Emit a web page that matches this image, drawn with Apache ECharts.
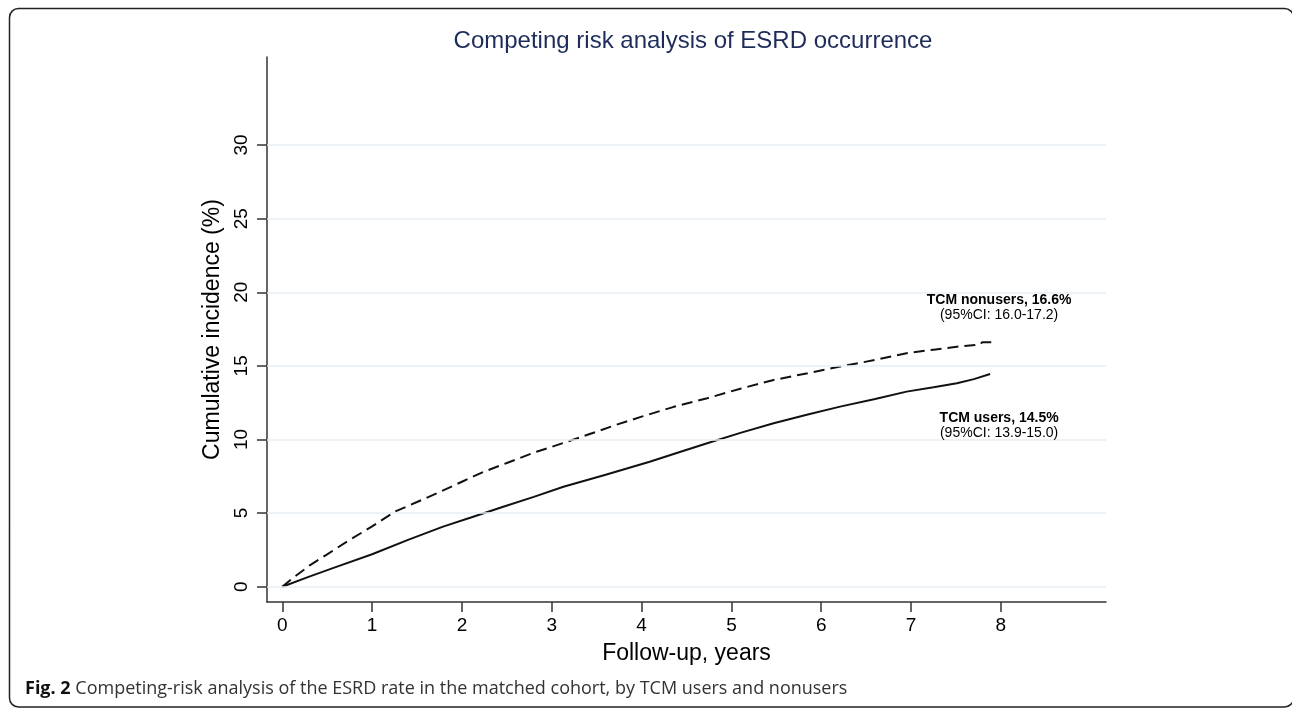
<!DOCTYPE html>
<html>
<head>
<meta charset="utf-8">
<script src="https://cdn.jsdelivr.net/npm/echarts@6/dist/echarts.min.js"></script>
<style>
html,body{margin:0;padding:0;background:#fff;}
#chart{width:1292px;height:708px;}
</style>
</head>
<body>
<div id="chart"></div>
<script>
// ---- data ----
var titleText = 'Competing risk analysis of ESRD occurrence';
var xAxisName = 'Follow-up, years';
var yAxisName = 'Cumulative incidence (%)';
var xTicks = [0, 1, 2, 3, 4, 5, 6, 7, 8];
var yTicks = [0, 5, 10, 15, 20, 25, 30];

var nonusersT = [0, 0.1, 0.31, 0.5, 0.72, 1.0, 1.255, 1.5, 1.72, 2.0, 2.24, 2.5, 2.83, 3.0, 3.39, 3.7, 4.0, 4.35, 4.73, 5.1, 5.47, 5.85, 6.21, 6.6, 6.95, 7.25, 7.51, 7.77, 7.79, 7.9];
var nonusersV = [0, 0.5, 1.47, 2.2, 3.06, 4.1, 5.1, 5.75, 6.34, 7.13, 7.8, 8.4, 9.17, 9.5, 10.3, 10.96, 11.55, 12.2, 12.8, 13.45, 14.04, 14.5, 14.95, 15.4, 15.86, 16.1, 16.3, 16.45, 16.6, 16.6];

var usersT = [0, 0.3, 0.61, 1.0, 1.4, 1.79, 2.1, 2.46, 2.8, 3.13, 3.6, 4.09, 4.4, 4.73, 5.1, 5.47, 5.85, 6.21, 6.6, 6.95, 7.25, 7.51, 7.7, 7.88];
var usersV = [0, 0.68, 1.36, 2.2, 3.18, 4.08, 4.7, 5.43, 6.1, 6.79, 7.6, 8.49, 9.1, 9.74, 10.45, 11.1, 11.7, 12.23, 12.75, 13.25, 13.55, 13.82, 14.1, 14.45];

var nonusersLabel = ['TCM nonusers, 16.6%', '(95%CI: 16.0-17.2)'];
var nonusersLabelAt = [7.98, 18.93];
var usersLabel = ['TCM users, 14.5%', '(95%CI: 13.9-15.0)'];
var usersLabelAt = [7.98, 10.96];

var captionBold = 'Fig. 2';
var captionText = ' Competing-risk analysis of the ESRD rate in the matched cohort, by TCM users and nonusers';

// ---- build ----
function pairs(t, v) { return t.map(function (x, i) { return [x, v[i]]; }); }
var font = '"Liberation Sans", Arial, Helvetica, sans-serif';
var richLabel = {
  b: { fontFamily: font, fontWeight: 'bold', fontSize: 14, color: '#000', lineHeight: 15, align: 'center' },
  n: { fontFamily: font, fontSize: 14, color: '#000', lineHeight: 15, align: 'center' }
};
function annot(lines, at) {
  return {
    coord: at,
    symbol: 'circle', symbolSize: 0,
    label: {
      show: true, position: 'inside',
      formatter: '{b|' + lines[0] + '}\n{n|' + lines[1] + '}',
      rich: richLabel
    }
  };
}

var chart = echarts.init(document.getElementById('chart'), null, { renderer: 'canvas' });
chart.setOption({
  animation: false,
  backgroundColor: '#fff',
  title: {
    text: titleText,
    left: 688, top: 24, textAlign: 'center',
    textStyle: { fontFamily: font, fontSize: 24, fontWeight: 'normal', color: '#1e2c5a' }
  },
  grid: { left: 267, top: 57, width: 839, height: 545, containLabel: false },
  xAxis: {
    type: 'value', min: -0.17, max: 9.17,
    name: xAxisName, nameLocation: 'middle', nameGap: 40,
    nameTextStyle: { fontFamily: font, fontSize: 23, color: '#000' },
    axisLine: { show: true, onZero: false, lineStyle: { color: '#333', width: 1.5 } },
    axisTick: { show: true, length: 10, inside: false, customValues: xTicks, lineStyle: { color: '#333', width: 1.5 } },
    axisLabel: { show: true, customValues: xTicks, margin: 14, fontFamily: font, fontSize: 19, color: '#000', showMinLabel: true, showMaxLabel: true },
    splitLine: { show: false }
  },
  yAxis: {
    type: 'value', min: -1.04, max: 35.98,
    name: yAxisName, nameLocation: 'middle', nameGap: 43, nameRotate: 90,
    nameTextStyle: { fontFamily: font, fontSize: 23, color: '#000' },
    axisLine: { show: true, onZero: false, lineStyle: { color: '#333', width: 1.5 } },
    axisTick: { show: true, length: 10, inside: false, customValues: yTicks, lineStyle: { color: '#333', width: 1.5 } },
    axisLabel: { show: true, customValues: yTicks, rotate: 90, margin: 16, fontFamily: font, fontSize: 19, color: '#000' },
    splitLine: { show: false }
  },
  series: [
    {
      name: 'grid', type: 'line', data: [], z: 1, silent: true,
      markLine: {
        silent: true, symbol: 'none', animation: false,
        label: { show: false },
        lineStyle: { color: '#e6eef3', width: 1.5, type: 'solid' },
        emphasis: { disabled: true },
        data: yTicks.map(function (v) { return { yAxis: v }; })
      }
    },
    {
      name: 'TCM nonusers', type: 'line', z: 3,
      data: pairs(nonusersT, nonusersV),
      showSymbol: false, symbol: 'none', smooth: false,
      lineStyle: { color: '#111', width: 2, type: [11, 6] },
      markPoint: { silent: true, animation: false, data: [annot(nonusersLabel, nonusersLabelAt)] }
    },
    {
      name: 'TCM users', type: 'line', z: 3,
      data: pairs(usersT, usersV),
      showSymbol: false, symbol: 'none', smooth: false,
      lineStyle: { color: '#111', width: 2, type: 'solid' },
      markPoint: { silent: true, animation: false, data: [annot(usersLabel, usersLabelAt)] }
    }
  ],
  graphic: [
    {
      type: 'rect', z: 0, silent: true,
      shape: { x: 9.5, y: 8.5, width: 1284, height: 698.5, r: 9 },
      style: { fill: 'none', stroke: '#222', lineWidth: 1.5 }
    },
    {
      type: 'text', left: 25, top: 680, silent: true,
      style: {
        text: '{fb|' + captionBold + '}{ft|' + captionText + '}',
        rich: {
          fb: { fontFamily: '"Open Sans", sans-serif', fontWeight: 'bold', fontSize: 18, fill: '#111' },
          ft: { fontFamily: '"Open Sans", sans-serif', fontSize: 18, fill: '#333' }
        }
      }
    }
  ]
});
</script>
</body>
</html>
